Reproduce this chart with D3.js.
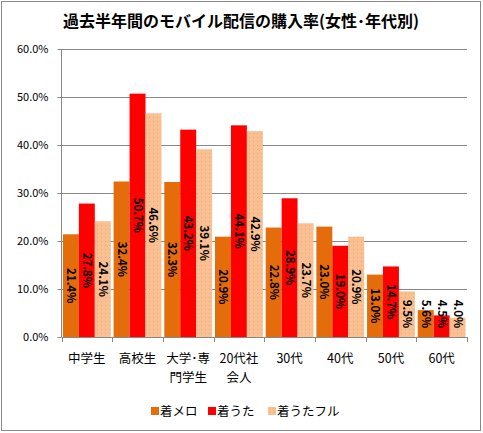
<!DOCTYPE html>
<html>
<head>
<meta charset="utf-8">
<script src="https://cdn.jsdelivr.net/npm/d3@7"></script>
<style>
  body { margin: 0; background: #fff; }
  text { font-family: "Noto Sans CJK JP", "Noto Sans", sans-serif; }
</style>
</head>
<body>
<svg id="svg"></svg>
<script>
// data
var categories = ["中学生", "高校生", "大学・専門学生", "20代社会人", "30代", "40代", "50代", "60代"];
var catLines = [["中学生"], ["高校生"], ["大学･専", "門学生"], ["20代社", "会人"], ["30代"], ["40代"], ["50代"], ["60代"]];
var seriesNames = ["着メロ", "着うた", "着うたフル"];
var chakuMelo = [21.4, 32.4, 32.3, 20.9, 22.8, 23.0, 13.0, 5.6];
var chakuUta = [27.8, 50.7, 43.2, 44.1, 28.9, 19.0, 14.7, 4.5];
var chakuUtaFull = [24.1, 46.6, 39.1, 42.9, 23.7, 20.9, 9.5, 4.0];
var yTicks = [0, 10, 20, 30, 40, 50, 60];

var seriesValues = [chakuMelo, chakuUta, chakuUtaFull];
var colors = ["#E46C0A", "#FF0000", "url(#dots)"];

var W = 483, H = 433;
svg = d3.select("#svg").attr("width", W).attr("height", H);

var defs = svg.append("defs");
var pat = defs.append("pattern").attr("id", "dots")
  .attr("patternUnits", "userSpaceOnUse")
  .attr("width", 4).attr("height", 4);
pat.append("rect").attr("width", 4).attr("height", 4).attr("fill", "#FAC090");
pat.append("rect").attr("x", 1).attr("y", 1).attr("width", 1).attr("height", 1).attr("fill", "#E8A0A0");

// outer frame
svg.append("rect")
  .attr("x", 1.5).attr("y", 1.5)
  .attr("width", W - 4).attr("height", H - 4)
  .attr("fill", "#fff").attr("stroke", "#888").attr("stroke-width", 1);

// title
svg.append("text")
  .attr("x", 241).attr("y", 27)
  .attr("text-anchor", "middle")
  .attr("font-size", 16).attr("font-weight", "bold")
  .text("過去半年間のモバイル配信の購入率(女性･年代別)");

var pl = 61.5, pr = 467, pt = 49, pb = 337;

var x = d3.scaleBand().domain(categories).range([pl, pr]).paddingInner(0).paddingOuter(0);
var xs = d3.scaleBand().domain(d3.range(3)).range([0, x.bandwidth()]).paddingInner(0).paddingOuter(0.09);
var y = d3.scaleLinear().domain([0, 60]).range([pb, pt]);

// gridlines
svg.append("g").selectAll("line").data(yTicks.filter(d => d > 0)).enter()
  .append("line")
  .attr("x1", pl).attr("x2", pr)
  .attr("y1", d => Math.round(y(d)) + 0.5).attr("y2", d => Math.round(y(d)) + 0.5)
  .attr("stroke", "#888").attr("stroke-width", 1);

// bars
var groups = svg.append("g").selectAll("g").data(seriesValues).enter()
  .append("g").attr("fill", (d, i) => colors[i]);

groups.selectAll("rect").data((d, i) => d.map((v, j) => ({v: v, s: i, c: categories[j]}))).enter()
  .append("rect")
  .attr("x", d => x(d.c) + xs(d.s))
  .attr("width", xs.bandwidth())
  .attr("y", d => y(d.v))
  .attr("height", d => pb - y(d.v));

// data labels (vertical, centred in bar, kept above the axis)
var labels = svg.append("g");
seriesValues.forEach(function(vals, i) {
  vals.forEach(function(v, j) {
    var cx = x(categories[j]) + xs(i) + xs.bandwidth() / 2;
    var cy = Math.min((y(v) + pb) / 2, pb - 23);
    labels.append("text")
      .attr("transform", "translate(" + cx + "," + cy + ") rotate(90)")
      .attr("text-anchor", "middle")
      .attr("dy", "0.35em")
      .attr("font-family", "DejaVu Sans, sans-serif")
      .attr("font-size", 11.5).attr("font-weight", "bold")
      .attr("fill", "#000")
      .text(v.toFixed(1) + "%");
  });
});

// y axis
var yAxis = svg.append("g")
  .attr("transform", "translate(" + pl + ",0)")
  .call(d3.axisLeft(y).tickValues(yTicks).tickSize(4).tickPadding(9).tickFormat(d => d.toFixed(1) + "%"));
yAxis.select(".domain").attr("stroke", "#888").attr("d", "M0," + pt + "V" + pb);
yAxis.selectAll(".tick line").attr("stroke", "#888");
yAxis.selectAll(".tick text")
  .attr("font-family", "DejaVu Sans, sans-serif").attr("font-size", 11).attr("fill", "#000");

// x axis
var xAxis = svg.append("g")
  .attr("transform", "translate(0," + pb + ")")
  .call(d3.axisBottom(x).tickSize(0).tickFormat(""));
xAxis.select(".domain").attr("stroke", "#888").attr("d", "M" + pl + ",0.5H" + pr);
xAxis.selectAll(".tick line").remove();
svg.append("g").selectAll("line").data(categories.concat(["end"])).enter()
  .append("line")
  .attr("x1", (d, i) => Math.round(pl + i * x.bandwidth()) + 0.5)
  .attr("x2", (d, i) => Math.round(pl + i * x.bandwidth()) + 0.5)
  .attr("y1", pb).attr("y2", pb + 5)
  .attr("stroke", "#888");

var xl = svg.append("g").selectAll("text").data(catLines).enter()
  .append("text")
  .attr("x", (d, i) => x(categories[i]) + x.bandwidth() / 2)
  .attr("y", 363)
  .attr("text-anchor", "middle")
  .attr("font-size", 12.5).attr("fill", "#000");
xl.selectAll("tspan").data(d => d).enter()
  .append("tspan")
  .attr("x", function() { return this.parentNode.getAttribute("x"); })
  .attr("dy", (d, i) => i === 0 ? 0 : 19)
  .text(d => d);

// legend
var legendX = [151, 208, 268];
var leg = svg.append("g").selectAll("g").data(seriesNames).enter()
  .append("g").attr("transform", (d, i) => "translate(" + legendX[i] + ",407)");
leg.append("rect").attr("width", 8).attr("height", 8).attr("fill", (d, i) => colors[i]);
leg.append("text").attr("x", 9).attr("y", 9).attr("font-size", 12.5).attr("fill", "#000").text(d => d);
</script>
</body>
</html>
